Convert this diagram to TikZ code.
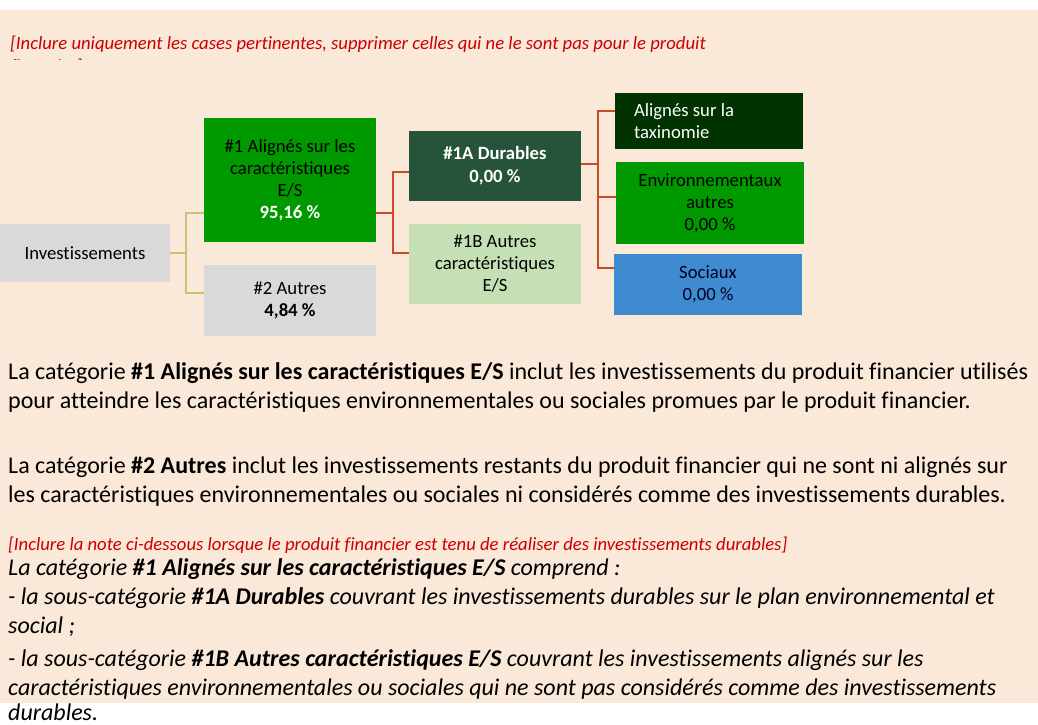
\documentclass[tikz,border=0pt]{standalone}
\usepackage{fontspec}
\setmainfont{Carlito}[Ligatures=NoCommon]
\definecolor{fondbeige}{RGB}{250,232,216}
\definecolor{grisbox}{RGB}{217,217,217}
\definecolor{vertvif}{RGB}{0,153,0}
\definecolor{vertfonce}{RGB}{38,84,58}
\definecolor{vertnuit}{RGB}{0,51,0}
\definecolor{vertpale}{RGB}{197,224,180}
\definecolor{bleusoc}{RGB}{64,138,208}
\definecolor{lienolive}{RGB}{204,193,122}
\definecolor{lienrouge}{RGB}{200,76,40}
\definecolor{rougenote}{RGB}{204,0,0}

\begin{document}
\begin{tikzpicture}[x=1pt, y=-1pt,
    box/.style={inner sep=0pt, align=center, font=\fontsize{18.7}{22}\selectfont, minimum width=172pt},
    linkol/.style={draw=lienolive, line width=2pt},
    linkrg/.style={draw=lienrouge, line width=2pt},
    para/.style={anchor=base west, inner sep=0pt, font=\fontsize{24}{29}\selectfont},
    paraital/.style={para, font=\fontsize{24}{29}\selectfont\itshape},
    note/.style={anchor=base west, inner sep=0pt, text=rougenote, font=\fontsize{18.7}{23}\selectfont\itshape}]
          \useasboundingbox (0,0) rectangle (1038,724);
          \fill [white] (0,0) rectangle (1038,724);
          \fill [fondbeige] (0,10) rectangle (1038,703); % fond beige

          % consigne en haut, coupee par le cadre
          \begin{scope}
            \clip (0,10) rectangle (1038,59);
            \node [note, align=left] (consigne) at (10,72) {[Inclure uniquement les cases pertinentes, supprimer celles qui ne le sont pas pour le produit\\financier]};
          \end{scope}

          % les cases
          \node [box, fill=grisbox, minimum width=170pt, minimum height=58pt] (inv) at (85,253) {Investissements};
          \node [box, fill=vertvif, minimum height=124pt] (cat1) at (290,180) {\#1 Alignés sur les\\caractéristiques\\E/S\\\textcolor{white}{\textbf{95,16 \%}}};
          \node [box, fill=grisbox, minimum height=71pt] (cat2) at (290,300.5) {\#2 Autres\\\textbf{4,84 \%}};
          \node [box, fill=vertfonce, text=white, minimum height=70pt, font=\fontsize{18.7}{23}\selectfont\bfseries] (cat1A) at (495,166) {\#1A Durables\\0,00 \%};
          \node [box, fill=vertpale, minimum height=80pt] (cat1B) at (495,264) {\#1B Autres\\caractéristiques\\E/S};
          \node [box, fill=vertnuit, text=white, minimum width=188pt, minimum height=56pt, inner xsep=19pt, text width=150pt, align=flush left] (taxo) at (709,121) {Alignés sur la\\taxinomie};
          \node [box, fill=vertvif, minimum width=188pt, minimum height=82pt] (envi) at (710,203) {Environnementaux\\autres\\0,00 \%};
          \node [box, fill=bleusoc, text=black!85!blue, minimum width=188pt, minimum height=61pt] (soci) at (708,284.5) {Sociaux\\0,00 \%};

          % les liens
          \coordinate (j1) at (186,253);
          \coordinate (j2) at (393,213);
          \coordinate (j3) at (598,164);
          \draw [linkol] (inv.east |- j1) -- (j1);
          \draw [linkol] (cat1.west |- 0,213) -| (j1) |- ([yshift=7.5pt]cat2.west);
          \draw [linkrg] (cat1.east |- j2) -- (j2);
          \draw [linkrg] ([yshift=-6pt]cat1A.west) -| (j2) |- ([yshift=11pt]cat1B.west);
          \draw [linkrg] ([yshift=2pt]cat1A.east) -- (j3);
          \draw [linkrg] ([yshift=10pt]taxo.west) -| (j3) |- (soci.west |- 0,268);
          \draw [linkrg] (j3 |- 0,197) -- (envi.west |- 0,197);

          % les textes
          \node [para] (p1a) at (8,379) {La catégorie \textbf{\#1 Alignés sur les caractéristiques E/S} inclut les investissements du produit financier utilisés};
          \node [para] (p1b) at (8,408) {pour atteindre les caractéristiques environnementales ou sociales promues par le produit financier.};
          \node [para] (p2a) at (8,473) {La catégorie \textbf{\#2 Autres} inclut les investissements restants du produit financier qui ne sont ni alignés sur};
          \node [para] (p2b) at (8,502) {les caractéristiques environnementales ou sociales ni considérés comme des investissements durables.};
          \node [note] (p3) at (8,550) {[Inclure la note ci-dessous lorsque le produit financier est tenu de réaliser des investissements durables]};
          \node [paraital] (p4a) at (8,575) {La catégorie \textbf{\#1 Alignés sur les caractéristiques E/S} comprend :};
          \node [paraital] (p4b) at (8,604) {- la sous-catégorie \textbf{\#1A Durables} couvrant les investissements durables sur le plan environnemental et};
          \node [paraital] (p4c) at (8,633) {social ;};
          \node [paraital] (p4d) at (8,666) {- la sous-catégorie \textbf{\#1B Autres caractéristiques E/S} couvrant les investissements alignés sur les};
          \node [paraital] (p4e) at (8,695) {caractéristiques environnementales ou sociales qui ne sont pas considérés comme des investissements};
          \node [paraital] (p4f) at (8,720) {durables.};
        \end{tikzpicture}
\end{document}
